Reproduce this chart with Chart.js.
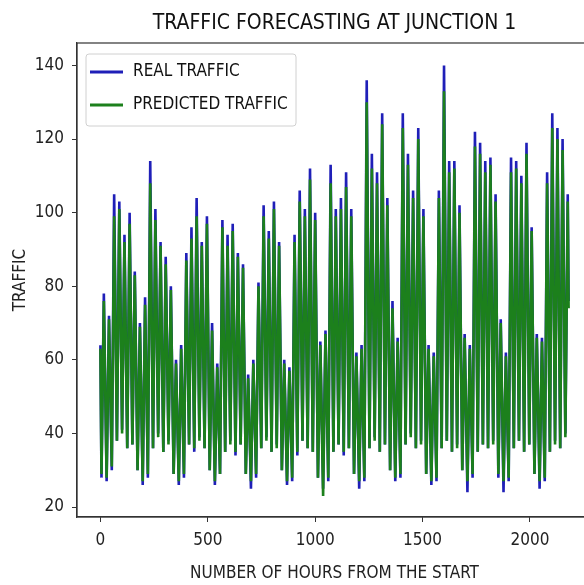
<!DOCTYPE html>
<html>
<head>
<meta charset="utf-8">
<script src="https://cdn.jsdelivr.net/npm/chart.js@4.4.1/dist/chart.umd.min.js"></script>
<style>
html, body { margin: 0; padding: 0; background: #fff; overflow: hidden; }
#wrap { width: 600px; height: 585px; }
</style>
</head>
<body>
<div id="wrap"><canvas id="trafic" width="600" height="585"></canvas></div>
<script>
// Textes
const chartTitle = 'TRAFFIC FORECASTING AT JUNCTION 1';
const xTitle = 'NUMBER OF HOURS FROM THE START';
const yTitle = 'TRAFFIC';
const seriesNames = ['REAL TRAFFIC', 'PREDICTED TRAFFIC'];

// Graduations
const xTicks = [0, 500, 1000, 1500, 2000];
const yTicks = [20, 40, 60, 80, 100, 120, 140];

// Debut et fin de la serie (heures)
const startHour = 0, startReal = 64, startPred = 63;
const endHour = 2180, endReal = 76, endPred = 74;

// Un creux de nuit et un pic de journee par jour (jours 0 a 90)
const troughHour = 5, peakHour = 16;

// Trafic reel : pics (une ligne = une semaine)
const realPeaks = [
  78, 72, 105, 103, 94, 100, 84,
  70, 77, 114, 101, 92, 88, 80,
  60, 64, 89, 96, 104, 92, 99,
  70, 59, 98, 94, 97, 89, 86,
  56, 60, 81, 102, 95, 103, 92,
  60, 58, 94, 106, 101, 112, 100,
  65, 68, 113, 101, 104, 111, 101,
  62, 64, 136, 116, 111, 127, 104,
  76, 66, 127, 116, 106, 123, 101,
  64, 62, 106, 140, 114, 114, 102,
  67, 64, 122, 119, 114, 115, 105,
  71, 62, 115, 114, 110, 119, 96,
  67, 66, 111, 127, 123, 120, 105
];
// Trafic reel : creux
const realTroughs = [
  28, 27, 30, 38, 41, 36, 37,
  30, 26, 28, 36, 40, 35, 38,
  29, 26, 28, 37, 35, 39, 36,
  30, 26, 29, 35, 38, 34, 37,
  29, 25, 28, 36, 39, 35, 37,
  30, 26, 27, 34, 38, 36, 35,
  28, 25, 27, 35, 37, 34, 36,
  29, 25, 27, 36, 39, 35, 37,
  30, 27, 28, 37, 40, 36, 38,
  29, 26, 27, 36, 38, 35, 37,
  30, 24, 28, 35, 37, 36, 38,
  28, 24, 27, 36, 38, 35, 37,
  29, 25, 27, 35, 38, 36, 40
];
// Trafic predit : pics
const predPeaks = [
  76, 71, 99, 101, 92, 97, 83,
  69, 75, 108, 98, 91, 86, 79,
  59, 63, 87, 93, 99, 91, 97,
  68, 58, 96, 91, 95, 88, 85,
  55, 59, 80, 99, 93, 101, 91,
  59, 57, 92, 103, 99, 109, 98,
  64, 67, 108, 99, 101, 107, 99,
  61, 63, 130, 112, 108, 124, 102,
  74, 65, 123, 113, 104, 120, 99,
  63, 61, 104, 133, 111, 112, 100,
  66, 63, 118, 116, 111, 113, 103,
  70, 61, 111, 112, 108, 116, 95,
  66, 65, 108, 123, 120, 117, 103
];
// Trafic predit : creux
const predTroughs = [
  29, 28, 31, 38, 40, 36, 37,
  30, 27, 29, 36, 39, 35, 37,
  29, 27, 29, 37, 36, 38, 36,
  30, 27, 29, 35, 37, 35, 37,
  29, 27, 29, 36, 38, 35, 36,
  30, 27, 28, 35, 38, 36, 35,
  28, 23, 28, 35, 37, 35, 36,
  29, 27, 28, 36, 38, 35, 37,
  30, 28, 29, 37, 39, 36, 37,
  29, 27, 28, 36, 38, 35, 36,
  30, 27, 29, 35, 37, 36, 37,
  29, 27, 28, 36, 38, 35, 37,
  29, 27, 28, 35, 37, 36, 39
];

function buildSeries(start, troughs, peaks, end) {
  const pts = [{x: startHour, y: start}];
  for (let d = 0; d < peaks.length; d++) {
    pts.push({x: d * 24 + troughHour, y: troughs[d]});
    pts.push({x: d * 24 + peakHour, y: peaks[d]});
  }
  pts.push({x: endHour, y: end});
  return pts;
}

const blue = '#1f1fb8';
const green = '#1c801c';
const fontFamily = "'DejaVu Sans Condensed', 'Liberation Sans Narrow', 'DejaVu Sans', sans-serif";

Chart.defaults.font.family = fontFamily;
Chart.defaults.color = '#222';

// Titre, cadre et legende dessines par-dessus
const decorPlugin = {
  id: 'decor',
  afterDraw(chart) {
    const ctx = chart.ctx;
    const a = chart.chartArea;
    ctx.save();
    ctx.strokeStyle = '#333';
    ctx.lineWidth = 1.2;
    ctx.strokeRect(a.left, a.top, a.right - a.left, a.bottom - a.top);

    ctx.fillStyle = '#111';
    ctx.font = '21px ' + fontFamily;
    ctx.textAlign = 'center';
    ctx.textBaseline = 'middle';
    ctx.fillText(chartTitle, (a.left + a.right) / 2, 24);

    // legende
    const bx = a.left + 9, by = a.top + 11;
    ctx.beginPath();
    ctx.roundRect(bx, by, 210, 72, 3);
    ctx.fillStyle = 'rgba(255,255,255,0.85)';
    ctx.fill();
    ctx.strokeStyle = '#d0d0d0';
    ctx.lineWidth = 1;
    ctx.stroke();
    ctx.font = '17px ' + fontFamily;
    ctx.textAlign = 'left';
    chart.data.datasets.forEach((ds, i) => {
      const yy = by + 18 + i * 33;
      ctx.strokeStyle = ds.borderColor;
      ctx.lineWidth = 3;
      ctx.beginPath();
      ctx.moveTo(bx + 4, yy);
      ctx.lineTo(bx + 37, yy);
      ctx.stroke();
      ctx.fillStyle = '#111';
      ctx.fillText(ds.label, bx + 47, yy);
    });
    ctx.restore();
  }
};

new Chart(document.getElementById('trafic'), {
  type: 'line',
  data: {
    datasets: [
      {
        label: seriesNames[0],
        data: buildSeries(startReal, realTroughs, realPeaks, endReal),
        borderColor: blue,
        borderWidth: 2.6,
        pointRadius: 0,
        order: 1
      },
      {
        label: seriesNames[1],
        data: buildSeries(startPred, predTroughs, predPeaks, endPred),
        borderColor: green,
        borderWidth: 2.6,
        pointRadius: 0,
        order: 0
      }
    ]
  },
  options: {
    responsive: false,
    animation: false,
    devicePixelRatio: 1,
    layout: { padding: { top: 43, right: 8, left: 0, bottom: 0 } },
    plugins: {
      legend: { display: false },
      tooltip: { enabled: false }
    },
    scales: {
      x: {
        type: 'linear',
        min: startHour - 0.05 * (endHour - startHour),
        max: endHour + 0.05 * (endHour - startHour),
        afterBuildTicks: s => { s.ticks = xTicks.map(v => ({ value: v })); },
        afterFit: s => { s.height = 68; },
        grid: { drawOnChartArea: false, drawTicks: true, tickLength: 5, color: '#333' },
        border: { color: '#333', width: 1.2 },
        ticks: { padding: 8, maxRotation: 0, font: { size: 17 }, color: '#222', callback: v => String(v) },
        title: { display: true, text: xTitle, font: { size: 17 }, color: '#222', padding: { top: 0, bottom: 1 } }
      },
      y: {
        min: 17.3,
        max: 146.1,
        afterBuildTicks: s => { s.ticks = yTicks.map(v => ({ value: v })); },
        afterFit: s => { s.width = 77; },
        grid: { drawOnChartArea: false, drawTicks: true, tickLength: 5, color: '#333' },
        border: { color: '#333', width: 1.2 },
        ticks: { padding: 8, font: { size: 17 }, color: '#222', callback: v => String(v) },
        title: { display: true, text: yTitle, font: { size: 17 }, color: '#222', padding: { top: 10, bottom: 0 } }
      }
    }
  },
  plugins: [decorPlugin]
});
</script>
</body>
</html>
